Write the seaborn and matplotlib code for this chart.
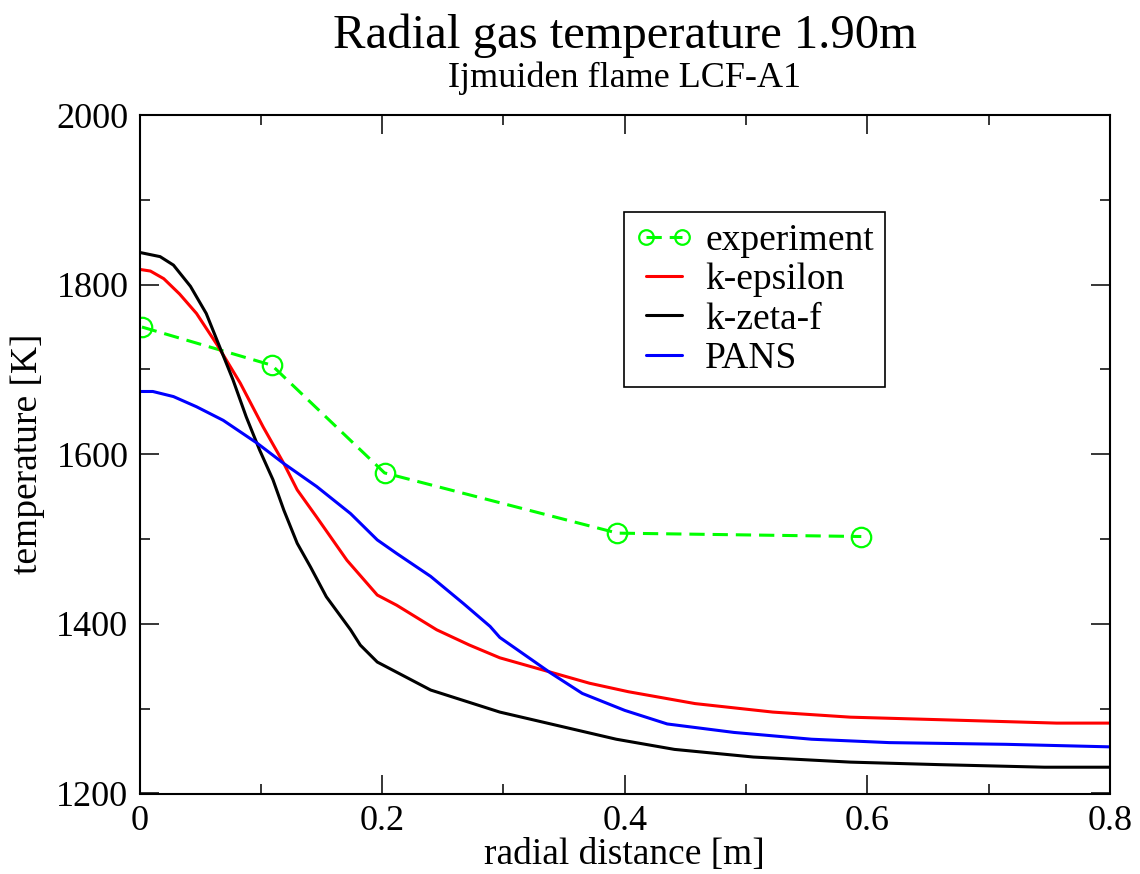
import matplotlib
matplotlib.use("Agg")
import matplotlib.pyplot as plt
import seaborn as sns
from matplotlib.ticker import MultipleLocator, FuncFormatter

# ---- data ----
exp_x = [0.002, 0.109, 0.202, 0.394, 0.595]
exp_T = [1750, 1705, 1578, 1507, 1503]

keps_x = [0, 0.009, 0.02, 0.033, 0.047, 0.064, 0.083, 0.102, 0.119, 0.130, 0.146,
          0.171, 0.196, 0.212, 0.245, 0.272, 0.297, 0.339, 0.371, 0.403, 0.458,
          0.522, 0.586, 0.66, 0.756, 0.8]
keps_T = [1818, 1816, 1807, 1789, 1766, 1729, 1684, 1632, 1589, 1558, 1526,
          1475, 1434, 1422, 1393, 1375, 1360, 1343, 1330, 1320, 1306,
          1296, 1290, 1287, 1283, 1283]

kzf_x = [0, 0.017, 0.028, 0.042, 0.055, 0.066, 0.077, 0.088, 0.099, 0.110, 0.119,
         0.130, 0.141, 0.154, 0.174, 0.182, 0.196, 0.24, 0.297, 0.339, 0.393,
         0.441, 0.506, 0.586, 0.66, 0.746, 0.8]
kzf_T = [1838, 1833, 1823, 1798, 1766, 1727, 1688, 1644, 1605, 1570, 1534,
         1495, 1467, 1432, 1393, 1375, 1355, 1322, 1296, 1282, 1264,
         1252, 1243, 1237, 1234, 1231, 1231]

pans_x = [0, 0.011, 0.028, 0.047, 0.069, 0.097, 0.119, 0.146, 0.174, 0.196, 0.212,
          0.24, 0.267, 0.289, 0.297, 0.339, 0.365, 0.4, 0.435, 0.49, 0.554,
          0.618, 0.714, 0.8]
pans_T = [1674, 1674, 1668, 1656, 1640, 1613, 1589, 1562, 1530, 1499, 1483,
          1456, 1424, 1397, 1384, 1342, 1318, 1298, 1282, 1272, 1264,
          1260, 1258, 1255]

title = "Radial gas temperature 1.90m"
subtitle = "Ijmuiden flame LCF-A1"
xlabel = "radial distance [m]"
ylabel = "temperature [K]"

sns.set_style("ticks")
plt.rcParams["font.family"] = ["Liberation Serif", "DejaVu Serif"]
plt.rcParams["text.color"] = "black"
plt.rcParams["axes.labelcolor"] = "black"
plt.rcParams["xtick.color"] = "black"
plt.rcParams["ytick.color"] = "black"

fig = plt.figure(figsize=(11.4, 8.74), dpi=100)
ax = fig.add_axes([139.5 / 1140, 1 - 793.5 / 874, 970.5 / 1140, 678.5 / 874])

sns.lineplot(x=exp_x, y=exp_T, ax=ax, color="#00ff00", lw=2.2, label="experiment",
             estimator=None, marker="o", markersize=14, markerfacecolor="none",
             markeredgecolor="#00ff00", markeredgewidth=1.6,
             dashes=False, linestyle=(0, (5, 2.6)))
sns.lineplot(x=keps_x, y=keps_T, ax=ax, color="#ff0000", lw=2.2, label="k-epsilon", estimator=None)
sns.lineplot(x=kzf_x, y=kzf_T, ax=ax, color="#000000", lw=2.2, label="k-zeta-f", estimator=None)
sns.lineplot(x=pans_x, y=pans_T, ax=ax, color="#0000ff", lw=2.2, label="PANS", estimator=None)

ax.set_xlim(0, 0.8)
ax.set_ylim(1200, 2000)
ax.xaxis.set_major_locator(MultipleLocator(0.2))
ax.xaxis.set_minor_locator(MultipleLocator(0.1))
ax.yaxis.set_major_locator(MultipleLocator(200))
ax.yaxis.set_minor_locator(MultipleLocator(100))
ax.xaxis.set_major_formatter(FuncFormatter(lambda v, p: "%g" % round(v, 3)))
ax.tick_params(which="both", direction="in", top=True, right=True, width=1.1,
               labelsize=26, colors="black")
ax.tick_params(which="major", length=14, pad=8)
ax.tick_params(which="minor", length=7)
for s in ax.spines.values():
    s.set_linewidth(1.5)
    s.set_color("black")
    s.set_visible(True)

ax.set_xlabel(xlabel, fontsize=27, labelpad=0)
ax.set_ylabel(ylabel, fontsize=27, labelpad=8)

leg = ax.legend(loc="upper left", bbox_to_anchor=(0.499, 0.857), fontsize=27,
                frameon=True, fancybox=False, edgecolor="black", framealpha=1,
                handlelength=1.55, handletextpad=0.32, borderpad=0.3,
                labelspacing=0.13, numpoints=2, borderaxespad=0, markerscale=0.75)
leg.get_frame().set_linewidth(1.2)

fig.text(0.548, 1 - 36 / 874, title, ha="center", va="center", fontsize=35)
fig.text(0.548, 1 - 78 / 874, subtitle, ha="center", va="center", fontsize=26)

fig.savefig("out.png", dpi=100)
